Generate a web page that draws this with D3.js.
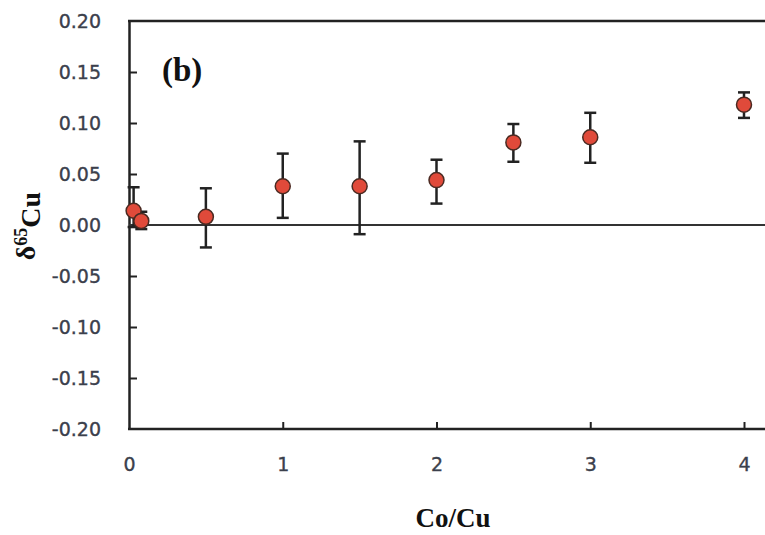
<!DOCTYPE html>
<html>
<head>
	<meta charset="utf-8">
	<title>delta65Cu vs Co/Cu</title>
	<style>
		body{ margin:0; background:#fff; }
		svg{ display:block; }
		.ytick text, .xtick text{ font-family:"DejaVu Sans", Verdana, sans-serif; font-size:19px; fill:#3b404c; stroke:#3b404c; stroke-width:0.35px; }
		.title{ font-family:"Liberation Serif", "Times New Roman", serif; font-weight:bold; fill:#111; }
	</style>
	<script src="https://cdn.jsdelivr.net/npm/d3@7"></script>
</head>
<body>
<svg width="765" height="535"></svg>
<script>
	// values
	var coCu      = [0.03, 0.08, 0.5, 1, 1.5, 2, 2.5, 3, 4];
	var d65Cu     = [0.014, 0.004, 0.008, 0.038, 0.038, 0.044, 0.081, 0.086, 0.118];
	var errHigh   = [0.037, 0.013, 0.036, 0.070, 0.082, 0.064, 0.099, 0.110, 0.130];
	var errLow    = [-0.002, -0.004, -0.022, 0.007, -0.009, 0.021, 0.062, 0.061, 0.105];
	var yTicks    = [-0.20, -0.15, -0.10, -0.05, 0.00, 0.05, 0.10, 0.15, 0.20];
	var xTicks    = [0, 1, 2, 3, 4];

	var svg = d3.select("svg");
	var W = 765;

	var x = d3.scaleLinear().domain([0, 4]).range([129, 744]);
	var y = d3.scaleLinear().domain([-0.2, 0.2]).range([429, 21]);

	// y axis, ticks pointing inside
	var yAxis = d3.axisLeft(y)
		.tickValues(yTicks)
		.tickSizeInner(-8)
		.tickSizeOuter(0)
		.tickPadding(28)
		.tickFormat(function(d){ return d.toFixed(2); });  // plain hyphen, like the original

	var gy = svg.append("g").attr("class","ytick")
		.attr("transform","translate(129,0)")
		.call(yAxis);
	gy.select(".domain").attr("stroke","#222").attr("stroke-width",2.5);
	gy.selectAll(".tick line").attr("stroke","#222").attr("stroke-width",2)
		.filter(function(d){ return Math.abs(d) > 0.19 || d === 0; }).remove();
	gy.selectAll(".tick text").attr("dy","0.36em");

	// x axis, ticks pointing up
	var xAxis = d3.axisBottom(x)
		.tickValues(xTicks)
		.tickSizeInner(-7)
		.tickSizeOuter(0)
		.tickPadding(29)
		.tickFormat(d3.format("d"));

	var gx = svg.append("g").attr("class","xtick")
		.attr("transform","translate(0,429)")
		.call(xAxis);
	gx.select(".domain").remove();
	gx.selectAll(".tick line").attr("stroke","#222").attr("stroke-width",2)
		.filter(function(d){ return d === 0; }).remove();

	// frame lines: bottom, top, zero
	svg.append("line").attr("x1",128).attr("x2",W).attr("y1",y(-0.2)).attr("y2",y(-0.2))
		.attr("stroke","#222").attr("stroke-width",2.5);
	svg.append("line").attr("x1",128).attr("x2",W).attr("y1",y(0.2)).attr("y2",y(0.2))
		.attr("stroke","#222").attr("stroke-width",2.5);
	svg.append("line").attr("x1",129).attr("x2",W).attr("y1",y(0)).attr("y2",y(0))
		.attr("stroke","#333").attr("stroke-width",2);

	var pts = coCu.map(function(c, i){
		return {x:c, y:d65Cu[i], lo:errLow[i], hi:errHigh[i]};
	});

	// error bars
	var eb = svg.append("g").selectAll("g").data(pts).enter().append("g")
		.attr("stroke","#222").attr("stroke-width",2.5);
	eb.append("line")
		.attr("x1",function(d){ return x(d.x); }).attr("x2",function(d){ return x(d.x); })
		.attr("y1",function(d){ return y(d.lo); }).attr("y2",function(d){ return y(d.hi); });
	eb.append("line")
		.attr("x1",function(d){ return x(d.x)-6; }).attr("x2",function(d){ return x(d.x)+6; })
		.attr("y1",function(d){ return y(d.hi); }).attr("y2",function(d){ return y(d.hi); });
	eb.append("line")
		.attr("x1",function(d){ return x(d.x)-6; }).attr("x2",function(d){ return x(d.x)+6; })
		.attr("y1",function(d){ return y(d.lo); }).attr("y2",function(d){ return y(d.lo); });

	// markers
	svg.append("g").selectAll("circle").data(pts).enter().append("circle")
		.attr("cx",function(d){ return x(d.x); })
		.attr("cy",function(d){ return y(d.y); })
		.attr("r",7.5)
		.attr("fill","#e04a3a")
		.attr("stroke","#4a2a22")
		.attr("stroke-width",1.5);

	// labels
	svg.append("text").attr("class","title")
		.attr("x",162).attr("y",81)
		.style("font-size","33px")
		.text("(b)");

	svg.append("text").attr("class","title")
		.attr("x",453).attr("y",527)
		.attr("text-anchor","middle")
		.style("font-size","27px")
		.text("Co/Cu");

	var yt = svg.append("text").attr("class","title")
		.attr("transform","translate(35,226) rotate(-90)")
		.attr("text-anchor","middle")
		.style("font-size","28px");
	yt.append("tspan").text("δ");
	yt.append("tspan").attr("dy","-0.45em").style("font-size","18px").text("65");
	yt.append("tspan").attr("dy","0.45em").text("Cu");
</script>
</body>
</html>
